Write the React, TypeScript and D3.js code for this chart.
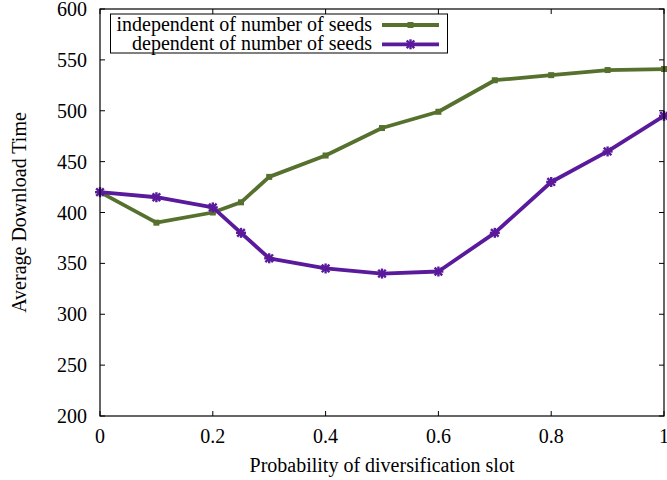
import React from "react";
import * as d3 from "d3";

const probabilities = [0, 0.1, 0.2, 0.25, 0.3, 0.4, 0.5, 0.6, 0.7, 0.8, 0.9, 1.0];
const independentTimes = [420, 390, 400, 410, 435, 456, 483, 499, 530, 535, 540, 541];
const dependentTimes = [420, 415, 405, 380, 355, 345, 340, 342, 380, 430, 460, 495];
const xTicks = [0, 0.2, 0.4, 0.6, 0.8, 1];
const yTicks = [200, 250, 300, 350, 400, 450, 500, 550, 600];
const seriesNames = ["independent of number of seeds", "dependent of number of seeds"];

const W = 667;
const H = 480;
const M = { left: 100, right: 664, top: 9, bottom: 416 };
const FONT = "'Liberation Serif', 'DejaVu Serif', serif";
const FS = 20;
const GREEN = "#56702e";
const PURPLE = "#5a1a9c";

export default function App() {
  const x = d3.scaleLinear().domain([0, 1]).range([M.left, M.right]);
  const y = d3.scaleLinear().domain([200, 600]).range([M.bottom, M.top]);
  const line = d3
    .line<[number, number]>()
    .x((d) => x(d[0]))
    .y((d) => y(d[1]));

  const indep: [number, number][] = probabilities.map((p, i) => [p, independentTimes[i]]);
  const dep: [number, number][] = probabilities.map((p, i) => [p, dependentTimes[i]]);
  const tick = 5;

  const square = (cx: number, cy: number, c: string, k: string) => (
    <rect key={k} x={cx - 3} y={cy - 3} width={6} height={6} fill={c} />
  );
  const star = (cx: number, cy: number, c: string, k: string) => (
    <g key={k} stroke={c} strokeWidth={2.4}>
      <line x1={cx - 5} y1={cy} x2={cx + 5} y2={cy} />
      <line x1={cx} y1={cy - 5} x2={cx} y2={cy + 5} />
      <line x1={cx - 3.8} y1={cy - 3.8} x2={cx + 3.8} y2={cy + 3.8} />
      <line x1={cx - 3.8} y1={cy + 3.8} x2={cx + 3.8} y2={cy - 3.8} />
    </g>
  );

  return (
    <svg
      width={W}
      height={H}
      style={{ position: "absolute", left: 0, top: 0, background: "#fff" }}
      fontFamily={FONT}
    >
      {/* ticks on all four sides, pointing inward */}
      {xTicks.map((t) => (
        <g key={"xt" + t} stroke="#000" strokeWidth={1}>
          <line x1={x(t)} x2={x(t)} y1={M.bottom} y2={M.bottom - tick} />
          <line x1={x(t)} x2={x(t)} y1={M.top} y2={M.top + tick} />
        </g>
      ))}
      {yTicks.map((t) => (
        <g key={"yt" + t} stroke="#000" strokeWidth={1}>
          <line x1={M.left} x2={M.left + tick} y1={y(t)} y2={y(t)} />
          <line x1={M.right} x2={M.right - tick} y1={y(t)} y2={y(t)} />
        </g>
      ))}
      {xTicks.map((t) => (
        <text key={"xl" + t} x={x(t)} y={443} fontSize={FS} textAnchor="middle">
          {d3.format("~g")(t)}
        </text>
      ))}
      {yTicks.map((t) => (
        <text key={"yl" + t} x={87} y={y(t) + 7} fontSize={FS} textAnchor="end">
          {t}
        </text>
      ))}
      <text x={382} y={472} fontSize={FS} textAnchor="middle">
        Probability of diversification slot
      </text>
      <text
        transform={`translate(26,${(M.top + M.bottom) / 2}) rotate(-90)`}
        fontSize={FS}
        textAnchor="middle"
      >
        Average Download Time
      </text>

      {/* data series */}
      <path d={line(indep) ?? ""} fill="none" stroke={GREEN} strokeWidth={3.8} strokeLinejoin="round" />
      {indep.map((d, i) => square(x(d[0]), y(d[1]), GREEN, "gi" + i))}
      <path d={line(dep) ?? ""} fill="none" stroke={PURPLE} strokeWidth={3.8} strokeLinejoin="round" />
      {dep.map((d, i) => star(x(d[0]), y(d[1]), PURPLE, "pi" + i))}

      {/* legend */}
      <rect x={110.5} y={14} width={337} height={39} fill="#fff" stroke="#000" strokeWidth={1} />
      {seriesNames.map((name, i) => {
        const ly = 25 + i * 19.3;
        const c = i === 0 ? GREEN : PURPLE;
        return (
          <g key={name}>
            <text x={372} y={ly + 5.5} fontSize={FS} textAnchor="end">
              {name}
            </text>
            <line x1={382} x2={439} y1={ly} y2={ly} stroke={c} strokeWidth={3.8} />
            {i === 0 ? square(410.5, ly, c, "lg") : star(410.5, ly, c, "lp")}
          </g>
        );
      })}

      {/* frame */}
      <rect
        x={M.left}
        y={M.top}
        width={M.right - M.left}
        height={M.bottom - M.top}
        fill="none"
        stroke="#000"
        strokeWidth={1.2}
      />
    </svg>
  );
}
